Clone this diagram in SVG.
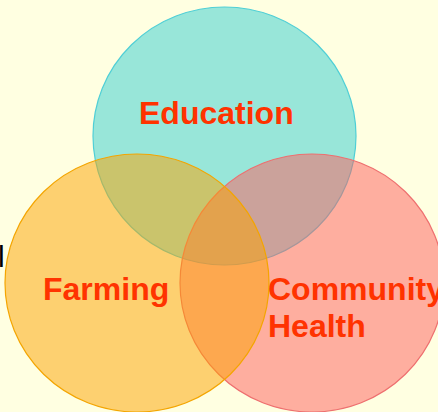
<svg xmlns="http://www.w3.org/2000/svg" width="438" height="412" viewBox="0 0 438 412">
<style>
.lbl{font-family:"Liberation Sans",Arial,sans-serif;font-weight:bold;font-size:32px;fill:#FF3300}
.c{fill-opacity:0.5;stroke-width:1.2}
</style>
<rect width="438" height="412" fill="#FFFFE1"/>
<text x="-2" y="267" font-family="Liberation Sans, Arial, sans-serif" font-size="30" fill="#000">l</text>
<g id="education">
<ellipse class="c" cx="224.5" cy="136" rx="131.5" ry="129" fill="#31CDD1" stroke="#4FCFD6"/>
</g>
<g id="community-health">
<ellipse class="c" cx="312" cy="283" rx="132" ry="129" fill="#FD5D5D" stroke="#EE6F6F"/>
</g>
<g id="farming">
<ellipse class="c" cx="137" cy="283" rx="132" ry="129" fill="#FBA100" stroke="#F4A500"/>
</g>
<g id="labels">
<text class="lbl" x="139" y="124">Education</text>
<text class="lbl" x="43" y="300">Farming</text>
<text class="lbl" x="268" y="300">Community</text>
<text class="lbl" x="268" y="337">Health</text>
</g>
</svg>
